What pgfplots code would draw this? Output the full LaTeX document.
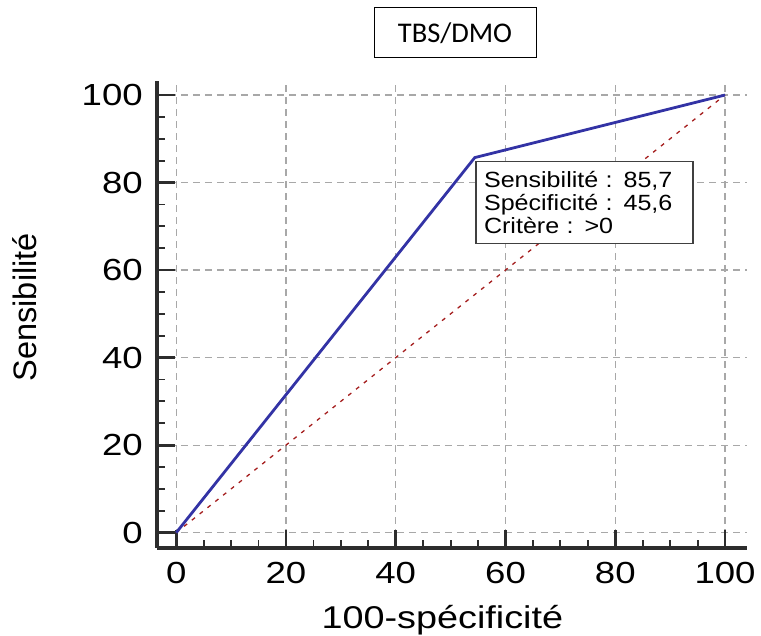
\documentclass[border=0pt]{standalone}
\usepackage{fontspec}
\setmainfont{Liberation Sans}
\newfontfamily\arialw[FakeStretch=1.2]{Liberation Sans}
\newfontfamily\arialm[FakeStretch=1.14]{Liberation Sans}
\newfontfamily\calib{Carlito}
\usepackage{pgfplots}
\pgfplotsset{compat=1.18}

\definecolor{rocblue}{RGB}{51,51,165}
\definecolor{rocred}{RGB}{165,30,30}
\definecolor{spine}{RGB}{45,45,45}
\definecolor{gridgray}{RGB}{168,168,168}

\begin{document}
\begin{tikzpicture}
\path[use as bounding box] (-157pt,-88pt) rectangle (604pt,548pt);
\begin{axis}[
    at={(0pt,0pt)}, anchor=south west,
    scale only axis, width=590pt, height=467pt,
    xmin=-3.5, xmax=104, ymin=-3.5, ymax=103.2,
    axis x line*=bottom, axis y line*=left,
    axis line style={spine, line width=3.2pt, -},
    xtick={0,20,...,100}, ytick={0,20,...,100},
    minor tick num=3,
    tick align=inside,
    major tick length=18pt, minor tick length=8pt,
    tick style={spine},
    every major tick/.append style={spine, line width=2.8pt},
    every minor tick/.append style={spine, line width=1.8pt},
    grid=major,
    major grid style={gridgray, line width=1.2pt, dash pattern=on 7pt off 5pt},
    /pgf/number format/assume math mode=true,
    tick label style={font=\arialw\fontsize{30.5}{30.5}\selectfont, inner sep=0pt},
    xticklabel style={yshift=-14pt},
    yticklabel style={xshift=-14pt},
    clip=false,
    xlabel={100-spécificité},
    xlabel style={at={(axis cs:48.5,-16.5)}, anchor=north, inner sep=0pt,
        font=\arialw\fontsize{31.5}{31.5}\selectfont},
    ylabel={Sensibilité},
    ylabel style={at={(axis cs:-25.3,51.5)}, anchor=south, rotate=0, inner sep=0pt,
        font=\fontsize{32.5}{32.5}\selectfont},
    title={TBS/DMO},
    title style={at={(axis cs:50.8,112.8)}, anchor=center, draw=black, line width=1pt,
        minimum width=162pt, minimum height=50pt, inner sep=0pt,
        font=\calib\fontsize{28.5}{28.5}\selectfont},
]
\addplot[rocred, line width=1.3pt, dash pattern=on 4pt off 6pt] coordinates {(0,0) (100,100)};
\addplot[rocblue, line width=2.8pt] coordinates {(0,0) (54.4,85.7) (100,100)};
\node[draw=black!75, line width=1.4pt, fill=white, anchor=north west,
    minimum width=217pt, minimum height=82pt, inner xsep=8pt, inner ysep=0pt,
    align=left, text width=201pt,
    font=\arialm\fontsize{22}{23.3}\selectfont]
    at (axis cs:54.5,85) {Sensibilité : 85,7\\Spécificité : 45,6\\Critère : >0};
\end{axis}
\end{tikzpicture}
\end{document}
